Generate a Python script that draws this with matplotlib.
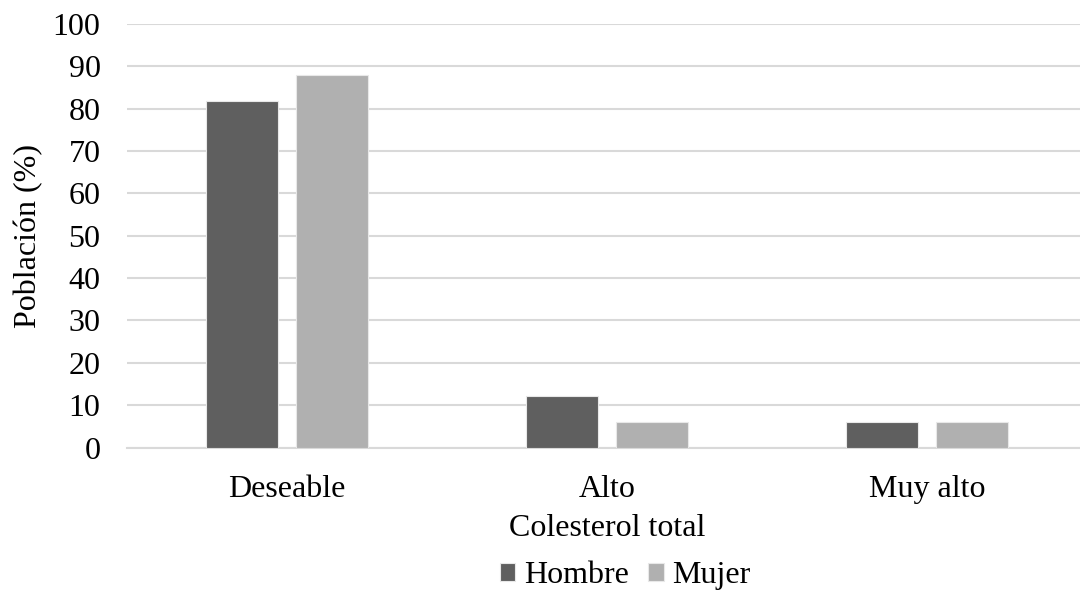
import matplotlib.pyplot as plt
import numpy as np

plt.rcParams['font.family'] = ['Liberation Serif', 'DejaVu Serif']

categories = ['Deseable', 'Alto', 'Muy alto']
hombre = [81.8, 12.1, 6.1]
mujer = [87.9, 6.1, 6.1]

fig = plt.figure(figsize=(10.8, 5.91), dpi=100)
ax = fig.add_axes([0.1176, 0.2428, 0.8889, 0.7166])

x = np.arange(len(categories))
w = 0.225
ax.bar(x - 0.142, hombre, w, color='#5f5f5f', edgecolor='#e8e8e8', linewidth=0.8, label='Hombre', zorder=3)
ax.bar(x + 0.142, mujer, w, color='#b0b0b0', edgecolor='#e8e8e8', linewidth=0.8, label='Mujer', zorder=3)

ax.set_xlim(-0.5, 2.5)
ax.set_ylim(0, 100)
ax.set_yticks(range(0, 101, 10))
ax.set_xticks(x)
ax.set_xticklabels(categories)
ax.yaxis.grid(True, color='#d9d9d9', linewidth=1.5, zorder=0)
for s in ['top', 'right', 'left']:
    ax.spines[s].set_visible(False)
ax.spines['bottom'].set_color('#d9d9d9')
ax.spines['bottom'].set_linewidth(1.5)
ax.tick_params(axis='both', length=0, labelsize=23)
ax.tick_params(axis='y', pad=19)
ax.tick_params(axis='x', pad=20)

ax.set_xlabel('Colesterol total', fontsize=23, labelpad=7)
ax.set_ylabel('Población (%)', fontsize=23, labelpad=7)

fig.legend(loc='center', bbox_to_anchor=(0.579, 0.026), ncol=2, frameon=False,
           fontsize=23, handlelength=0.48, handleheight=0.48, handletextpad=0.28,
           columnspacing=0.6)

fig.savefig('out.png', dpi=100)
